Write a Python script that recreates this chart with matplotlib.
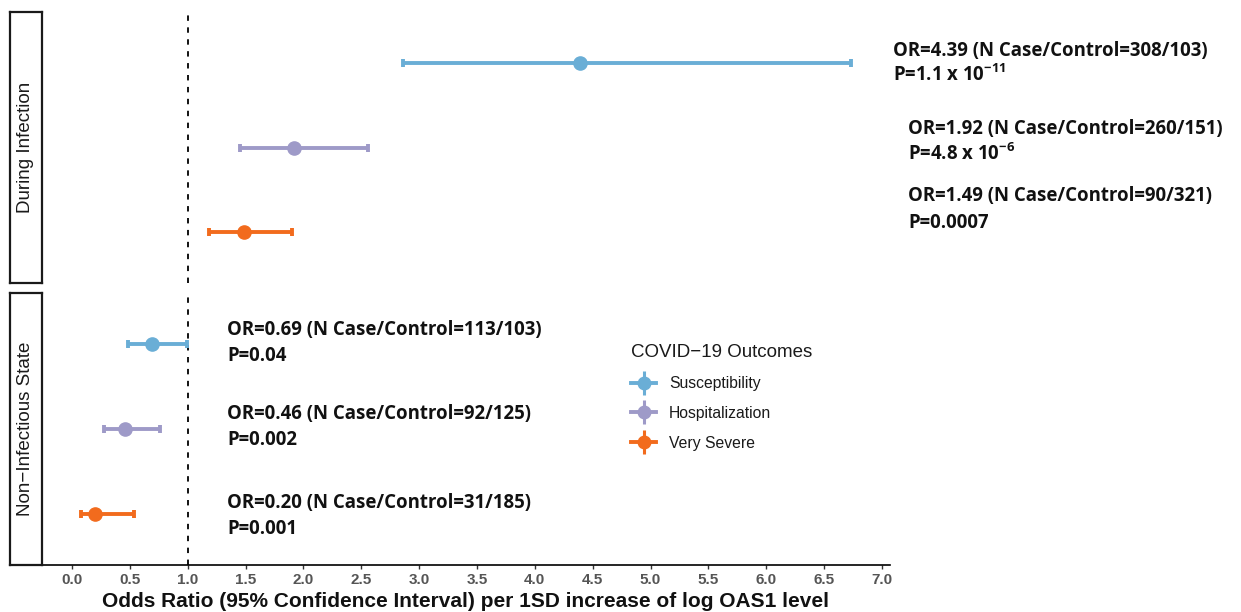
import matplotlib
matplotlib.use('Agg')
import matplotlib.pyplot as plt
from matplotlib.lines import Line2D
from matplotlib.legend_handler import HandlerTuple
import numpy as np

# data
outcomes = ['Susceptibility', 'Hospitalization', 'Very Severe']
colors = ['#6aaed6', '#9e9ac8', '#f26b1d']

panels = ['During Infection', 'Non\u2212Infectious State']

or_during = [4.39, 1.92, 1.49]
lo_during = [2.86, 1.45, 1.18]
hi_during = [6.73, 2.56, 1.90]

or_non = [0.69, 0.46, 0.20]
lo_non = [0.48, 0.28, 0.08]
hi_non = [0.99, 0.76, 0.54]

notes_during = [
    ('OR=4.39 (N Case/Control=308/103)', 'P=1.1 x 10$^{-11}$'),
    ('OR=1.92 (N Case/Control=260/151)', 'P=4.8 x 10$^{-6}$'),
    ('OR=1.49 (N Case/Control=90/321)', 'P=0.0007'),
]
notes_non = [
    ('OR=0.69 (N Case/Control=113/103)', 'P=0.04'),
    ('OR=0.46 (N Case/Control=92/125)', 'P=0.002'),
    ('OR=0.20 (N Case/Control=31/185)', 'P=0.001'),
]

xticks = np.arange(0, 7.01, 0.5)

plt.rcParams['mathtext.fontset'] = 'custom'
plt.rcParams['mathtext.rm'] = 'Open Sans:bold'
plt.rcParams['mathtext.it'] = 'Open Sans:bold'
plt.rcParams['mathtext.bf'] = 'Open Sans:bold'

W, H = 1241, 612
fig = plt.figure(figsize=(W / 100, H / 100), dpi=100)


def box(x0, y0, x1, y1):
    # pixel box (from top-left) -> figure fraction rect
    return [x0 / W, 1 - y1 / H, (x1 - x0) / W, (y1 - y0) / H]


ax_top = fig.add_axes(box(42, 12, 890, 283))
ax_bot = fig.add_axes(box(42, 293, 890, 565))

xlim = (-0.259, 7.069)
ylim = (3.6, 0.4)

for ax, ors, los, his in [(ax_top, or_during, lo_during, hi_during),
                          (ax_bot, or_non, lo_non, hi_non)]:
    for i in range(3):
        y = i + 1
        ax.errorbar([ors[i]], [y],
                    xerr=[[ors[i] - los[i]], [his[i] - ors[i]]],
                    fmt='o', color=colors[i], ms=9.5, elinewidth=2.8,
                    capsize=3, capthick=2.8, zorder=3)
    ax.axvline(1, color='black', lw=1.3, ls=(0, (3.0, 3.6)), zorder=1)
    ax.set_xlim(*xlim)
    ax.set_ylim(*ylim)
    ax.set_yticks([])
    for s in ['top', 'right', 'left']:
        ax.spines[s].set_visible(False)

ax_top.spines['bottom'].set_visible(False)
ax_top.set_xticks([])

ax_bot.spines['bottom'].set_linewidth(1.2)
ax_bot.set_xticks(xticks)
ax_bot.set_xticklabels(['%.1f' % t for t in xticks])
ax_bot.tick_params(axis='x', length=3, width=1.0, color='#333333', pad=3,
                   labelsize=11, labelcolor='#555555')
for lab in ax_bot.get_xticklabels():
    lab.set_family(['Liberation Sans Narrow', 'Liberation Sans'])
    lab.set_fontweight('bold')
ax_bot.set_xlabel('Odds Ratio (95% Confidence Interval) per 1SD increase of log OAS1 level',
                  fontsize=15, fontweight='bold', family='Liberation Sans',
                  color='#111111')
ax_bot.xaxis.set_label_coords(0.5, -0.136)
ax_bot.xaxis.label.set_va('center')

# facet strips on the left
for (y0, y1), name in zip([(12, 283), (293, 565)], panels):
    sax = fig.add_axes(box(10, y0, 42, y1))
    sax.set_xticks([])
    sax.set_yticks([])
    for s in sax.spines.values():
        s.set_linewidth(1.6)
        s.set_color('#1a1a1a')
    sax.text(0.5, 0.5, name, rotation=90, ha='center', va='center',
             fontsize=13.5, family='Liberation Sans', color='#1a1a1a',
             transform=sax.transAxes)

# annotations
note_font = dict(family='Open Sans', fontweight='bold', fontsize=13.4,
                 color='#111111', va='baseline', ha='left')
top_pos = [(893, 56, 81), (908, 134, 160), (908, 201, 228)]
bot_pos = [(227, 335, 361), (227, 419, 445), (227, 508, 534)]
for notes, pos in [(notes_during, top_pos), (notes_non, bot_pos)]:
    for (l1, l2), (x, b1, b2) in zip(notes, pos):
        fig.text(x / W, 1 - b1 / H, l1, **note_font)
        fig.text(x / W, 1 - b2 / H, l2, **note_font)

# legend
handles = []
for c in colors:
    hline = Line2D([], [], color=c, lw=2.8)
    vline = Line2D([], [], color=c, marker='|', ms=17, mew=2.2, ls='None')
    dot = Line2D([], [], color=c, marker='o', ms=9, ls='None')
    handles.append((hline, vline, dot))

leg = fig.legend(handles, outcomes, title='COVID\u221219 Outcomes',
                 loc='upper left', bbox_to_anchor=(617 / W, 1 - 330 / H),
                 frameon=False, alignment='left',
                 handler_map={tuple: HandlerTuple(ndivide=1, pad=0)},
                 handlelength=1.6, handletextpad=0.8, labelspacing=0.95,
                 prop={'family': 'Liberation Sans', 'size': 11.3},
                 title_fontproperties={'family': 'Liberation Sans', 'size': 13.5})
for t in leg.get_texts():
    t.set_color('#1a1a1a')
leg.get_title().set_color('#1a1a1a')

fig.savefig('out.png', dpi=100)
